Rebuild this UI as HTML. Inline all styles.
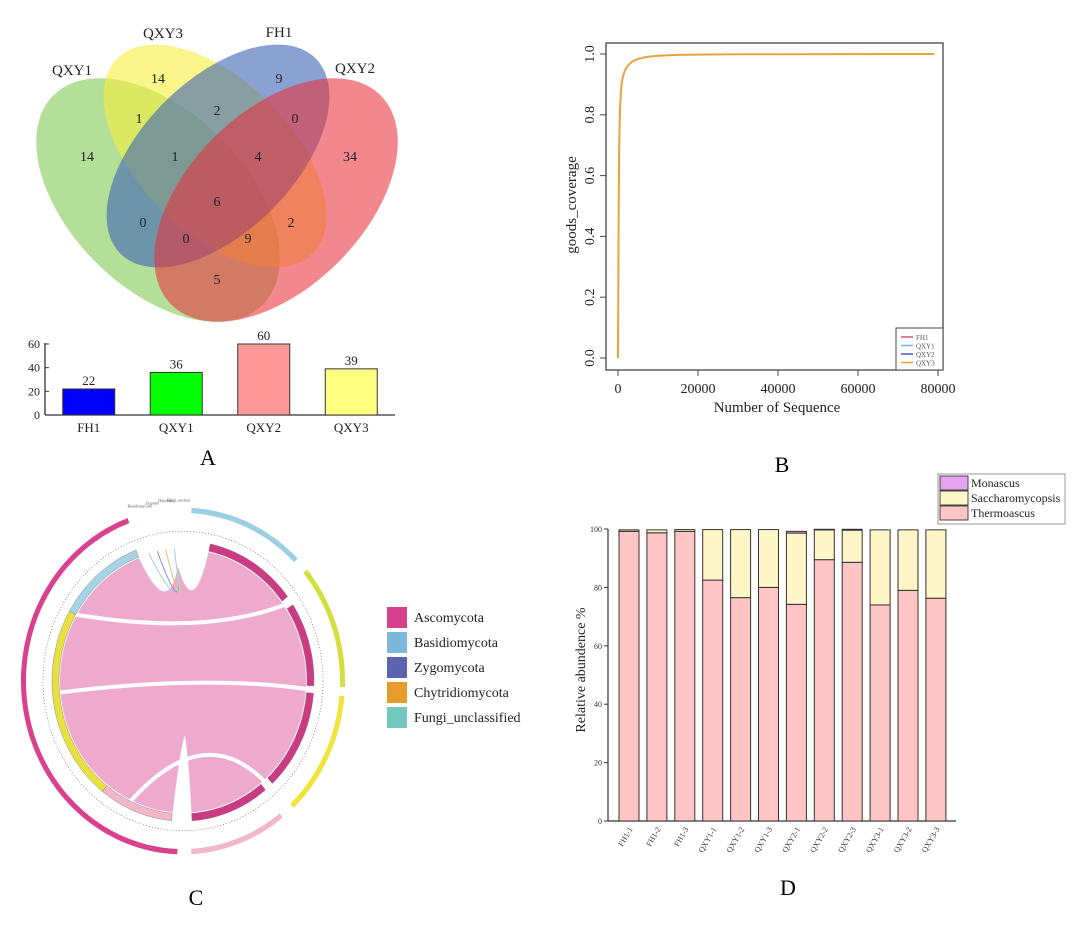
<!DOCTYPE html>
<html><head><meta charset="utf-8"><style>
html,body{margin:0;padding:0;background:#fff;}
svg{display:block;font-family:"Liberation Serif",serif;}
</style></head><body>
<svg id="fig" width="1080" height="927" viewBox="0 0 1080 927" xmlns="http://www.w3.org/2000/svg">
<g>
 <ellipse cx="158" cy="200" rx="148" ry="88" transform="rotate(45 158 200)" fill="#7ec850" fill-opacity="0.58"/>
 <ellipse cx="215" cy="156" rx="138" ry="76" transform="rotate(45 215 156)" fill="#f5ee3c" fill-opacity="0.6"/>
 <ellipse cx="218" cy="156" rx="138" ry="76" transform="rotate(-45 218 156)" fill="#3c64b4" fill-opacity="0.6"/>
 <ellipse cx="276" cy="200" rx="148" ry="88" transform="rotate(-45 276 200)" fill="#e8303c" fill-opacity="0.58"/>
 <g font-size="15" fill="#222" text-anchor="middle">
  <text x="72" y="75">QXY1</text>
  <text x="163" y="38">QXY3</text>
  <text x="279" y="37">FH1</text>
  <text x="355" y="73">QXY2</text>
 </g>
 <g font-size="14" fill="#222" text-anchor="middle">
  <text x="158" y="83">14</text><text x="139" y="123">1</text><text x="217" y="115">2</text>
  <text x="279" y="83">9</text><text x="295" y="123">0</text><text x="87" y="161">14</text>
  <text x="175" y="161">1</text><text x="258" y="161">4</text><text x="350" y="161">34</text>
  <text x="217" y="206">6</text><text x="143" y="227">0</text><text x="291" y="227">2</text>
  <text x="186" y="243">0</text><text x="248" y="243">9</text><text x="217" y="284">5</text>
 </g>
</g>
<g id="barA"></g>
<text x="208" y="465" font-size="22" text-anchor="middle">A</text>

<g id="panelB"></g>
<text x="782" y="472" font-size="22" text-anchor="middle">B</text>

<g id="panelC"></g>
<g font-size="14" fill="#222">
 <rect x="387" y="607" width="20" height="21" fill="#d63f8c"/><text x="414" y="622">Ascomycota</text>
 <rect x="387" y="632" width="20" height="21" fill="#7db8dc"/><text x="414" y="647">Basidiomycota</text>
 <rect x="387" y="657" width="20" height="21" fill="#5c64b0"/><text x="414" y="672">Zygomycota</text>
 <rect x="387" y="682" width="20" height="21" fill="#e59c2a"/><text x="414" y="697">Chytridiomycota</text>
 <rect x="387" y="707" width="20" height="21" fill="#72c8bd"/><text x="414" y="722">Fungi_unclassified</text>
</g>
<text x="196" y="905" font-size="22" text-anchor="middle">C</text>

<g id="panelD"></g>
<text x="788" y="895" font-size="22" text-anchor="middle">D</text>
</svg>
<script>
const NS='http://www.w3.org/2000/svg';
function mk(p,tag,attrs,txt){const e=document.createElementNS(NS,tag);for(const k in attrs)e.setAttribute(k,attrs[k]);if(txt!==undefined)e.textContent=txt;p.appendChild(e);return e;}

const aCategories=['FH1','QXY1','QXY2','QXY3'];
const aValues=[22,36,60,39];
const aColors=['#0000ff','#00ff00','#ff9999','#ffff80'];
const aTicks=[0,20,40,60];
(function(){
 const g=document.getElementById('barA');
 const y=v=>415-v*(71/60);
 const x0=45,x1=395,step=87.5;
 mk(g,'line',{x1:x0,y1:415,x2:x1,y2:415,stroke:'#333','stroke-width':1.3});
 mk(g,'line',{x1:x0,y1:343,x2:x0,y2:415,stroke:'#333','stroke-width':1.3});
 aTicks.forEach(t=>{mk(g,'line',{x1:x0,y1:y(t),x2:x0+4,y2:y(t),stroke:'#333'});
  const l=mk(g,'text',{x:x0-5,y:y(t)+4,'font-size':12,'text-anchor':'end',fill:'#222'},t);
  });
 aValues.forEach((v,i)=>{const cx=x0+step*(i+0.5);
  const r=mk(g,'rect',{x:cx-26,y:y(v),width:52,height:415-y(v),fill:aColors[i],stroke:'#333','stroke-width':1});
  
  const t=mk(g,'text',{x:cx,y:y(v)-4,'font-size':13,'text-anchor':'middle',fill:'#222'},v);
  
  const c=mk(g,'text',{x:cx,y:432,'font-size':13,'text-anchor':'middle',fill:'#222'},aCategories[i]);
  });
})();

const bSeq=[0,150,300,500,800,1200,1800,2500,3500,5000,7000,10000,15000,20000,30000,40000,60000,79000];
const bCov=[0,0.45,0.7,0.82,0.89,0.925,0.948,0.962,0.975,0.984,0.99,0.994,0.997,0.998,0.999,0.9995,0.9998,1.0];
const bXTicks=[0,20000,40000,60000,80000];
const bYTicks=[0,0.2,0.4,0.6,0.8,1.0];
const bLegend=['FH1','QXY1','QXY2','QXY3'];
const bLegendColors=['#d9557f','#7ab3e8','#4a55c8','#e8a33a'];
(function(){
 const g=document.getElementById('panelB');
 const X=v=>618+v*(320/80000), Y=v=>358-v*304;
 mk(g,'rect',{x:606,y:43,width:337,height:327,fill:'none',stroke:'#444','stroke-width':1.3});
 bXTicks.forEach(t=>{mk(g,'line',{x1:X(t),y1:370,x2:X(t),y2:376,stroke:'#444'});
  const l=mk(g,'text',{x:X(t),y:393,'font-size':14,'text-anchor':'middle',fill:'#222'},t);
  });
 bYTicks.forEach(t=>{mk(g,'line',{x1:600,y1:Y(t),x2:606,y2:Y(t),stroke:'#444'});
  const l=mk(g,'text',{x:0,y:0,'font-size':14,'text-anchor':'middle',fill:'#222',transform:`translate(594,${Y(t)}) rotate(-90)`},t.toFixed(1));
  });
 const yl=mk(g,'text',{x:0,y:0,'font-size':15,'text-anchor':'middle',fill:'#222',transform:'translate(576,205) rotate(-90)'},'goods_coverage');
 
 const xl=mk(g,'text',{x:777,y:412,'font-size':15,'text-anchor':'middle',fill:'#222'},'Number of Sequence');
 
 const pts=bSeq.map((s,i)=>X(s).toFixed(1)+','+Y(bCov[i]).toFixed(1)).join(' ');
 const ln=mk(g,'polyline',{points:pts,fill:'none',stroke:'#e8a33a','stroke-width':2});
 
 const lg=mk(g,'g',{});
 
 mk(lg,'rect',{x:896,y:328,width:47,height:42,fill:'#fff',stroke:'#444'});
 bLegend.forEach((n,i)=>{const yy=337+i*8.5;mk(lg,'line',{x1:901,y1:yy,x2:913,y2:yy,stroke:bLegendColors[i],'stroke-width':1.5});
  mk(lg,'text',{x:916,y:yy+3,'font-size':7,fill:'#555'},n);});
})();

const cOuterNames=['Ascomycota','FH1','QXY1','QXY2','QXY3'];
const cOuterStart=[182,3,50,95,142];
const cOuterEnd=[340,45,92,137,177];
const cOuterColors=['#d9418f','#9dcfe3','#d4de3c','#f0e43a','#f2b6c6'];
const cInnerStart=[12,57,95,141,185,218,300];
const cInnerEnd=[53,92,137,176,218,300,339];
const cInnerColors=['#cc3a83','#cc3a83','#cc3a83','#cc3a83','#f2b6c6','#e8e040','#a6d4e6'];
(function(){
 const g=document.getElementById('panelC');
 const cx=183,cy=681,k=1.07;
 const P=(a,r)=>{const t=a*Math.PI/180;return [cx+r*Math.sin(t),cy-r*k*Math.cos(t)];};
 function arc(a0,a1,r0,r1){let p=[];for(let a=a0;a<=a1;a+=1)p.push(P(a,r1));p.push(P(a1,r1));
  for(let a=a1;a>=a0;a-=1)p.push(P(a,r0));p.push(P(a0,r0));return 'M'+p.map(q=>q[0].toFixed(1)+','+q[1].toFixed(1)).join('L')+'Z';}
 const fill=mk(g,'ellipse',{cx:cx,cy:cy,rx:123,ry:123*k,fill:'#eeaacd'});
 
 const a=P(339,124),b=P(12,124);
 mk(g,'path',{d:`M${a[0]},${a[1]} Q${cx-15},${cy-60} ${cx-5},${cy-115} Q${cx+10},${cy-60} ${b[0]},${b[1]} L${b[0]},${b[1]-10} L${a[0]},${a[1]-10}Z`,fill:'#fff'});
 const c1=P(176,124),c2=P(185,124);
 mk(g,'path',{d:`M${c2[0]},${c2[1]+3} Q${cx-2},${cy+60} ${cx+2},${cy+55} Q${cx+6},${cy+80} ${c1[0]},${c1[1]+3}Z`,fill:'#fff'});
 [[55,300],[93.5,265],[139,205]].forEach(([s,e])=>{const p1=P(s,124),p2=P(e,124);
  mk(g,'path',{d:`M${p1[0]},${p1[1]} Q${cx+20},${cy-10+(s-90)} ${p2[0]},${p2[1]}`,fill:'none',stroke:'#fff','stroke-width':4});});
 ['#9dcfe3','#8a90d0','#e8c27a','#9ed8d0'].forEach((col,i)=>{const p=P(344+i*4,124);
  mk(g,'path',{d:`M${p[0]},${p[1]} Q${cx},${cy-60} ${cx-5},${cy-110}`,fill:'none',stroke:col,'stroke-width':1});});
 cInnerStart.forEach((s,i)=>{const e=mk(g,'path',{d:arc(s,cInnerEnd[i],124,131),fill:cInnerColors[i],stroke:'#777','stroke-width':0.4});
  });
 mk(g,'ellipse',{cx:cx,cy:cy,rx:140,ry:140*k,fill:'none',stroke:'#555','stroke-width':0.6,'stroke-dasharray':'1 2'});
 cOuterStart.forEach((s,i)=>{const e=mk(g,'path',{d:arc(s,cOuterEnd[i],157,162),fill:cOuterColors[i]});
  });
 ['Basidiomycota','Zygomy','Chytridio','Fungi_unclass'].forEach((n,i)=>{const p=P(345+i*4.5,168);
  mk(g,'text',{x:p[0],y:p[1],'font-size':4,'text-anchor':'middle',fill:'#555'},n);});
})();

const dSamples=['FH1-1','FH1-2','FH1-3','QXY1-1','QXY1-2','QXY1-3','QXY2-1','QXY2-2','QXY2-3','QXY3-1','QXY3-2','QXY3-3'];
const dThermoascus=[99.2,98.7,99.2,82.5,76.5,80.0,74.2,89.5,88.6,74.0,79.0,76.3];
const dSaccharomycopsis=[0.5,1.0,0.6,17.3,23.3,19.8,24.4,10.2,11.0,25.7,20.7,23.4];
const dMonascus=[0,0,0,0,0,0,0.6,0.2,0.3,0,0,0];
const dYTicks=[0,20,40,60,80,100];
const dSeriesNames=['Monascus','Saccharomycopsis','Thermoascus'];
const dSeriesColors=['#e8a2f2','#fff6c8','#ffc4c4'];
(function(){
 const g=document.getElementById('panelD');
 const Y=v=>821-v*2.92, X=i=>629+i*27.9;
 mk(g,'line',{x1:608,y1:529,x2:608,y2:821,stroke:'#333','stroke-width':1.2});
 mk(g,'line',{x1:608,y1:821,x2:956,y2:821,stroke:'#333','stroke-width':1.2});
 dYTicks.forEach(t=>{mk(g,'line',{x1:604,y1:Y(t),x2:608,y2:Y(t),stroke:'#333'});
  const l=mk(g,'text',{x:602,y:Y(t)+3,'font-size':8,'text-anchor':'end',fill:'#333'},t);
  });
 const yl=mk(g,'text',{x:0,y:0,'font-size':14,'text-anchor':'middle',fill:'#222',transform:'translate(585,670) rotate(-90)'},'Relative abundence %');
 
 dSamples.forEach((s,i)=>{const cx=X(i);let base=0;
  [[dThermoascus[i],dSeriesColors[2]],[dSaccharomycopsis[i],dSeriesColors[1]],[dMonascus[i],dSeriesColors[0]]].forEach(([v,col])=>{
   if(v<=0)return;
   const r=mk(g,'rect',{x:cx-10,y:Y(base+v),width:20,height:Y(base)-Y(base+v),fill:col,stroke:'#333','stroke-width':1});
   
   base+=v;});
  const l=mk(g,'text',{x:0,y:0,'font-size':8,'text-anchor':'end',fill:'#333',transform:`translate(${cx+4},${829}) rotate(-60)`},s);
  });
 const lg=mk(g,'g',{});
 
 mk(lg,'rect',{x:938,y:474,width:127,height:50,fill:'#fff',stroke:'#999'});
 dSeriesNames.forEach((n,i)=>{const yy=476+i*15;
  mk(lg,'rect',{x:940,y:yy,width:28,height:14,fill:dSeriesColors[i],stroke:'#444'});
  mk(lg,'text',{x:971,y:yy+11,'font-size':12,fill:'#222'},n);});
})();
</script>
</body></html>
